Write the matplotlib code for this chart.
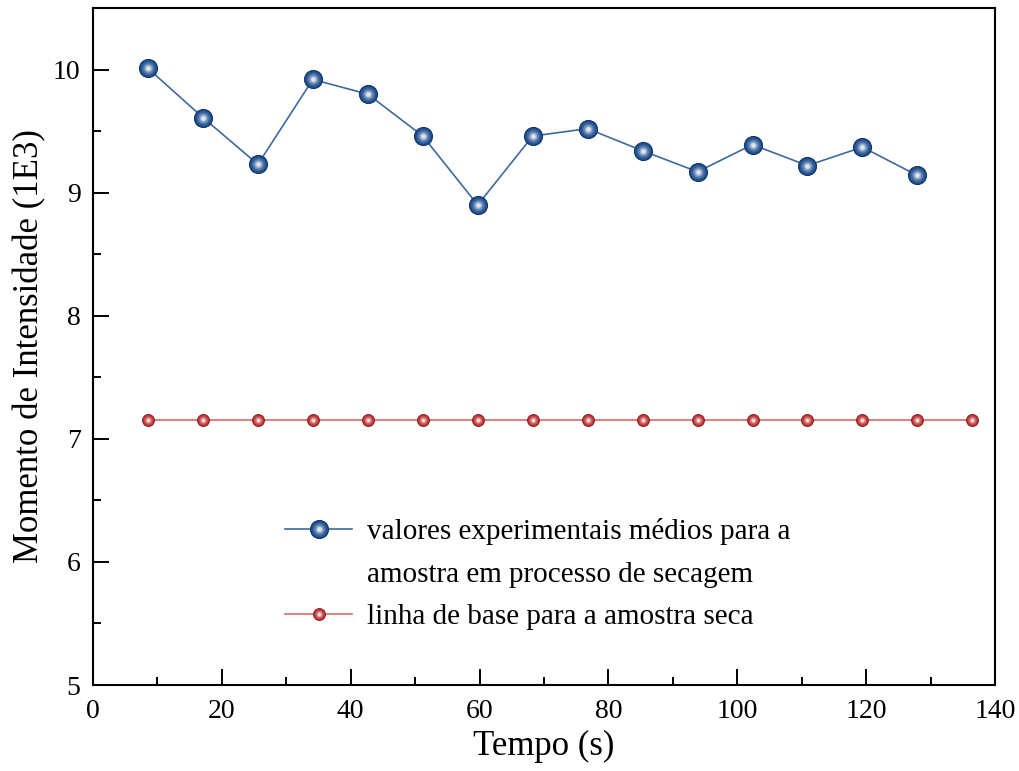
import numpy as np
import matplotlib.pyplot as plt
from matplotlib.ticker import MultipleLocator
from matplotlib.legend_handler import HandlerTuple
from matplotlib.lines import Line2D
from matplotlib.colors import to_rgb

plt.rcParams['font.family'] = ['Liberation Serif', 'DejaVu Serif']

# tempo (s)
tempo = [8.53, 17.06, 25.59, 34.12, 42.65, 51.18, 59.71, 68.24, 76.77,
         85.30, 93.83, 102.36, 110.89, 119.42, 127.95]
tempo_base = tempo + [136.48]
# momento de intensidade (1E3)
momento = [10.01, 9.61, 9.23, 9.92, 9.80, 9.46, 8.90, 9.46, 9.52,
           9.34, 9.17, 9.39, 9.22, 9.37, 9.14]
base = [7.15] * len(tempo_base)

lbl_exp = ["valores experimentais médios para a", "amostra em processo de secagem"]
lbl_base = "linha de base para a amostra seca"

fig = plt.figure(figsize=(10.2, 7.71), dpi=100)
ax = fig.add_axes([0.0912, 0.1115, 0.8843, 0.8781])

def mistura(cor, t):
    c = np.array(to_rgb(cor))
    if t < 0:
        return tuple(c * (1 + t))
    return tuple(c + (1 - c) * t)

# camadas para dar o efeito de esfera
camadas = [(1.0, 0.0), (0.8, 0.12), (0.6, 0.3), (0.42, 0.55), (0.25, 0.85)]

def esfera_handles(cor, ms):
    return [Line2D([], [], ls='none', marker='o', ms=ms * f, mfc=mistura(cor, t),
                   mec=mistura(cor, -0.25) if f == 1.0 else 'none', mew=0.8)
            for f, t in camadas]

def esfera(x, y, cor_linha, cor, ms, lw):
    ax.plot(x, y, '-', color=cor_linha, lw=lw, zorder=2)
    for i, (f, t) in enumerate(camadas):
        ax.plot(x, y, 'o', ms=ms * f, mfc=mistura(cor, t),
                mec=mistura(cor, -0.25) if f == 1.0 else 'none', mew=0.8,
                ls='none', zorder=3 + i)

esfera(tempo, momento, '#3d6a9e', '#1c4c8c', 13, 1.2)
esfera(tempo_base, base, '#d86a6a', '#bf2f2f', 8.5, 1.2)

ax.set_xlim(0, 140)
ax.set_ylim(5, 10.5)
ax.xaxis.set_major_locator(MultipleLocator(20))
ax.xaxis.set_minor_locator(MultipleLocator(10))
ax.yaxis.set_major_locator(MultipleLocator(1))
ax.yaxis.set_minor_locator(MultipleLocator(0.5))
ax.tick_params(which='both', direction='in', labelsize=20, width=1.4)
ax.tick_params(which='major', length=11.5)
ax.tick_params(which='minor', length=6)
ax.tick_params(axis='x', pad=10)
ax.tick_params(axis='y', pad=9)
for s in ax.spines.values():
    s.set_linewidth(1.5)

ax.set_xlabel("Tempo (s)", fontsize=25, labelpad=4)
ax.set_ylabel("Momento de Intensidade (1E3)", fontsize=25, labelpad=5)

h1 = tuple([Line2D([], [], color='#3d6a9e', lw=1.2)] + esfera_handles('#1c4c8c', 13))
h2 = tuple([Line2D([], [], color='#d86a6a', lw=1.2)] + esfera_handles('#bf2f2f', 8.5))
vazio = Line2D([], [], ls='none', marker='none')
leg = ax.legend([h1, vazio, h2], [lbl_exp[0], lbl_exp[1], lbl_base],
                handler_map={tuple: HandlerTuple(ndivide=1)},
                loc='lower left', bbox_to_anchor=(0.184, 0.042), frameon=False, fontsize=21,
                handlelength=2.3, handletextpad=0.5, labelspacing=0.55)

fig.savefig('out.png', dpi=100)
